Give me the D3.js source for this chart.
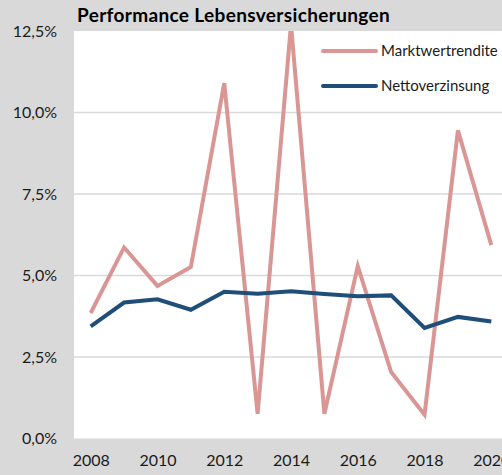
<!DOCTYPE html>
<html>
<head>
<meta charset="utf-8">
<script src="https://cdn.jsdelivr.net/npm/d3@7"></script>
<style>
  html, body { margin: 0; padding: 0; background: #d9d9d9; overflow: hidden; }
  svg { display: block; font-family: Lato, "Open Sans", sans-serif; }
</style>
</head>
<body>
<svg id="chart" width="502" height="475"></svg>
<script>
// Jahreswerte
const years = [2008, 2009, 2010, 2011, 2012, 2013, 2014, 2015, 2016, 2017, 2018, 2019, 2020];
const marktwertrendite = [3.85, 5.86, 4.68, 5.26, 10.9, 0.76, 12.7, 0.76, 5.29, 2.04, 0.73, 9.45, 5.93];
const nettoverzinsung = [3.44, 4.17, 4.27, 3.95, 4.50, 4.44, 4.52, 4.43, 4.36, 4.39, 3.39, 3.73, 3.59];
const yTicks = [0, 2.5, 5, 7.5, 10, 12.5];
const xTickYears = [2008, 2010, 2012, 2014, 2016, 2018, 2020];
const seriesNames = ["Marktwertrendite", "Nettoverzinsung"];
const seriesColors = ["#d99694", "#1f4e79"];

const svg = d3.select("#chart");
const plot = { left: 74, right: 508, top: 31, bottom: 438.5 };

const x = d3.scalePoint().domain(years).range([plot.left, plot.right]).padding(0.5);
const y = d3.scaleLinear().domain([0, 12.5]).range([plot.bottom, plot.top]);

svg.append("rect").attr("width", 502).attr("height", 475).attr("fill", "#d9d9d9");

// Zeichenfläche
svg.append("rect")
  .attr("x", plot.left).attr("y", plot.top)
  .attr("width", plot.right - plot.left).attr("height", plot.bottom - plot.top)
  .attr("fill", "#ffffff");

svg.append("clipPath").attr("id", "plotClip")
  .append("rect")
  .attr("x", plot.left).attr("y", plot.top)
  .attr("width", plot.right - plot.left).attr("height", plot.bottom - plot.top);

// Gitterlinien
svg.append("g")
  .selectAll("line")
  .data(yTicks.filter(t => t > 0 && t < 12.5))
  .join("line")
  .attr("x1", plot.left).attr("x2", plot.right)
  .attr("y1", d => y(d)).attr("y2", d => y(d))
  .attr("stroke", "#d9d9d9").attr("stroke-width", 1.5);

// Y-Achse
const fmt = d => d3.format(".1f")(d).replace(".", ",") + "%";
const yAxis = svg.append("g")
  .attr("transform", `translate(${plot.left - 17},0)`)
  .call(d3.axisLeft(y).tickValues(yTicks).tickFormat(fmt).tickSize(0).tickPadding(0));
yAxis.select(".domain").remove();
yAxis.selectAll("text").attr("font-size", 16).attr("fill", "#1a1a1a")
  .attr("font-family", "Lato, sans-serif");

// X-Achse
const xAxis = svg.append("g")
  .attr("transform", `translate(0,${plot.bottom})`)
  .call(d3.axisBottom(x).tickValues(xTickYears).tickFormat(d3.format("d")).tickSize(0).tickPadding(16));
xAxis.select(".domain").remove();
xAxis.selectAll("text").attr("font-size", 16).attr("fill", "#1a1a1a")
  .attr("font-family", "Lato, sans-serif");

// Linien
const line = d3.line().x((d, i) => x(years[i])).y(d => y(d));
const lines = svg.append("g").attr("clip-path", "url(#plotClip)");
[marktwertrendite, nettoverzinsung].forEach((vals, k) => {
  lines.append("path")
    .datum(vals)
    .attr("d", line)
    .attr("fill", "none")
    .attr("stroke", seriesColors[k])
    .attr("stroke-width", 4)
    .attr("stroke-linejoin", "miter")
    .attr("stroke-linecap", "butt");
});

// Titel
svg.append("text")
  .attr("x", 77).attr("y", 22)
  .attr("font-size", 19).attr("font-weight", "bold").attr("fill", "#000")
  .attr("letter-spacing", 0.35)
  .text("Performance Lebensversicherungen");

// Legende
const legend = svg.append("g");
seriesNames.forEach((name, k) => {
  const ly = 51 + k * 35;
  legend.append("line")
    .attr("x1", 323).attr("x2", 376).attr("y1", ly).attr("y2", ly)
    .attr("stroke", seriesColors[k]).attr("stroke-width", 4).attr("stroke-linecap", "round");
  legend.append("text")
    .attr("x", 381).attr("y", ly).attr("dy", "0.35em")
    .attr("font-size", 15).attr("fill", "#1a1a1a")
    .text(name);
});
</script>
</body>
</html>
